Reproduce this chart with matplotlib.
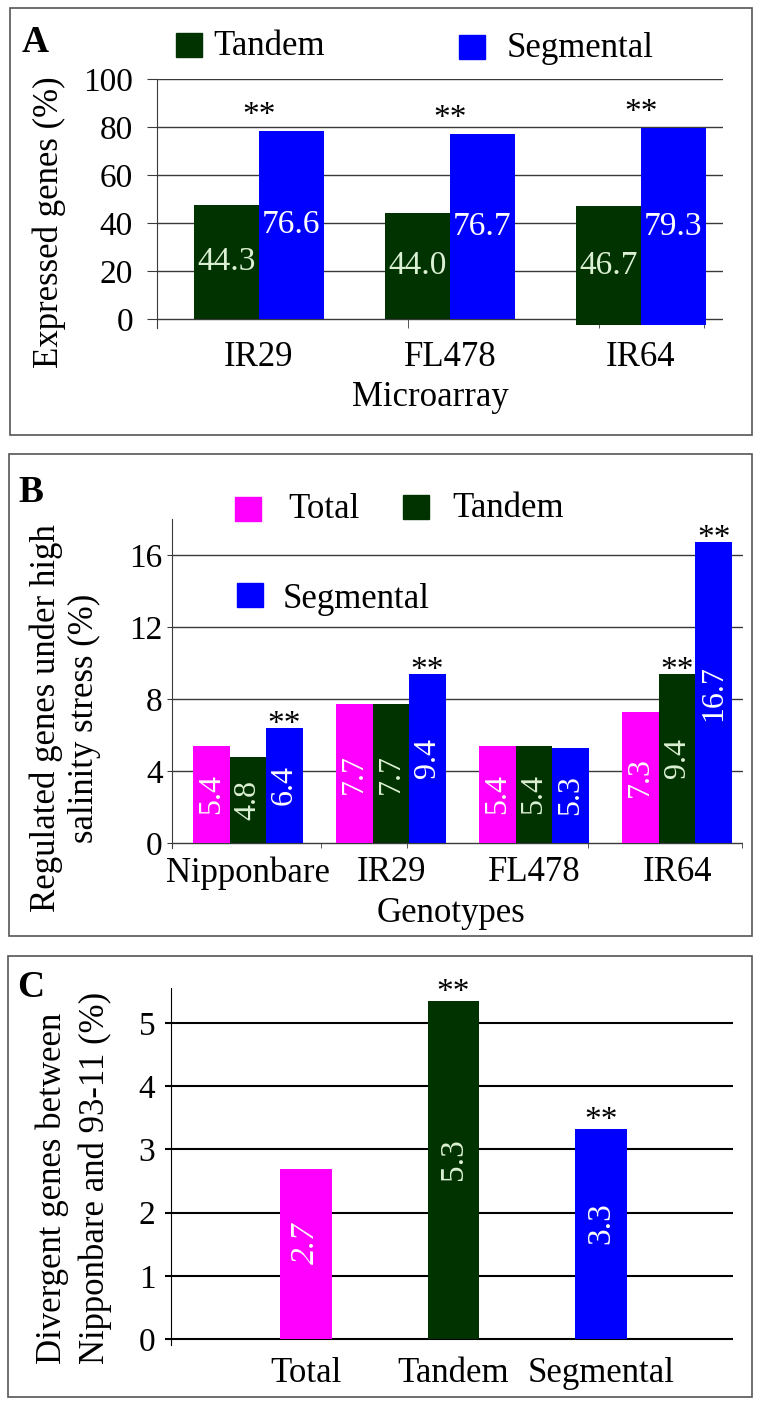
import matplotlib
matplotlib.use("Agg")
import matplotlib.pyplot as plt
from matplotlib.patches import Rectangle
import numpy as np

plt.rcParams['font.family'] = ['Liberation Serif', 'DejaVu Serif']

# --- Data ---
a_groups = ['IR29', 'FL478', 'IR64']
a_tandem = [47.5, 44.2, 47.1]
a_segmental = [78.3, 77.1, 79.6]
a_base = [0, 0, -2.5]
a_tandem_labels = ['44.3', '44.0', '46.7']
a_segmental_labels = ['76.6', '76.7', '79.3']
a_yticks = [0, 20, 40, 60, 80, 100]

b_groups = ['Nipponbare', 'IR29', 'FL478', 'IR64']
b_total = [5.4, 7.7, 5.4, 7.3]
b_tandem = [4.8, 7.7, 5.4, 9.4]
b_segmental = [6.4, 9.4, 5.3, 16.7]
b_yticks = [0, 4, 8, 12, 16]
b_stars = [(2, 0), (2, 1), (1, 3), (2, 3)]  # (series, group) marked **

c_groups = ['Total', 'Tandem', 'Segmental']
c_values = [2.69, 5.34, 3.32]
c_labels = ['2.7', '5.3', '3.3']
c_yticks = [0, 1, 2, 3, 4, 5]
c_stars = [1, 2]

W, H = 761, 1406
DKGREEN = '#003300'
BLUE = '#0000ff'
MAGENTA = '#ff00ff'
GRID = '#3a3a3a'
TLABEL = '#dcf0d4'

fig = plt.figure(figsize=(W / 100, H / 100), dpi=100)


def px_axes(left, top, right, bottom):
    return fig.add_axes([left / W, 1 - bottom / H, (right - left) / W, (bottom - top) / H])


def ftext(x, y, s, **kw):
    fig.text(x / W, 1 - y / H, s, **kw)


def frame(left, top, right, bottom):
    fig.patches.append(Rectangle((left / W, 1 - bottom / H), (right - left) / W, (bottom - top) / H,
                                 transform=fig.transFigure, fill=False, edgecolor='#555555', lw=1.2))


def key(x, y, color, label, tx, baseline):
    # legend square (top-left at x, y) plus its label
    fig.patches.append(Rectangle((x / W, 1 - (y + 24) / H), 26 / W, 24 / H,
                                 transform=fig.transFigure, color=color))
    ftext(tx, baseline, label, fontsize=25, va='baseline')


def style_axes(ax, spine_color):
    for s in ['top', 'right', 'bottom']:
        ax.spines[s].set_visible(False)
    ax.spines['left'].set_color(spine_color)
    ax.set_axisbelow(True)


# ---------------- Panel A ----------------
frame(9.5, 8, 752, 435)
ftext(22, 52, 'A', fontsize=27, fontweight='bold', va='baseline')
key(176, 33, DKGREEN, 'Tandem', 213, 55)
key(459, 35, BLUE, 'Segmental', 507, 57)

ax = px_axes(157, 79, 723, 328)
x = np.arange(len(a_groups))
w = 0.34
base = np.array(a_base)
ta = np.array(a_tandem)
sa = np.array(a_segmental)
ax.bar(x - w / 2, ta - base, w, bottom=base, color=DKGREEN)
ax.bar(x + w / 2, sa - base, w, bottom=base, color=BLUE)
for i in range(len(a_groups)):
    ax.text(x[i] - w / 2, (ta[i] + base[i]) / 2, a_tandem_labels[i], ha='center', va='center',
            color=TLABEL, fontsize=24)
    ax.text(x[i] + w / 2, (sa[i] + base[i]) / 2, a_segmental_labels[i], ha='center', va='center',
            color='white', fontsize=24)
    ax.annotate('**', (x[i], sa[i]), xytext=(0, 5), textcoords='offset points',
                ha='center', va='baseline', fontsize=24)
ax.set_xlim(-0.534, 2.43)
ax.set_ylim(-3.75, 100)
ax.set_yticks(a_yticks)
ax.yaxis.grid(True, color=GRID, lw=1)
style_axes(ax, GRID)
ax.tick_params(axis='y', direction='out', length=7.2, color=GRID, labelsize=24, pad=10)
ax.set_xticks(x)
ax.set_xticklabels(a_groups)
ax.tick_params(axis='x', length=0, pad=9.4, labelsize=25)
ax.set_xticks([0.78, 1.78, 2.33], minor=True)
ax.tick_params(axis='x', which='minor', direction='in', length=6.5, color=GRID)
ftext(49, 222, 'Expressed genes (%)', rotation=90, ha='center', va='center', fontsize=25)
ftext(430, 406, 'Microarray', ha='center', va='baseline', fontsize=25)

# ---------------- Panel B ----------------
frame(9, 454, 752, 936)
ftext(18, 502, 'B', fontsize=27, fontweight='bold', va='baseline')
key(235, 497, MAGENTA, 'Total', 288, 518)
key(403, 495, DKGREEN, 'Tandem', 452, 517)
key(237, 583, BLUE, 'Segmental', 283, 608)

ax = px_axes(172, 519, 743, 848)
x = np.arange(len(b_groups))
w = 0.255
series = [b_total, b_tandem, b_segmental]
colors = [MAGENTA, DKGREEN, BLUE]
txt_colors = ['white', TLABEL, 'white']
for k in range(3):
    xs = x + (k - 1) * w
    ax.bar(xs, series[k], w, color=colors[k])
    for i, v in enumerate(series[k]):
        ax.text(xs[i], v / 2, f'{v:.1f}', rotation=90, ha='center', va='center',
                color=txt_colors[k], fontsize=23)
for k, i in b_stars:
    ax.annotate('**', (x[i] + (k - 1) * w, series[k][i]), xytext=(0, -3.6), textcoords='offset points',
                ha='center', va='baseline', fontsize=24)
ax.set_xlim(-0.531, 3.46)
ax.set_ylim(-0.28, 18)
ax.set_yticks(b_yticks)
ax.yaxis.grid(True, color=GRID, lw=1)
style_axes(ax, GRID)
ax.tick_params(axis='y', direction='out', length=3.6, color=GRID, labelsize=24, pad=3)
ax.set_xticks(x)
ax.set_xticklabels(b_groups)
ax.tick_params(axis='x', length=0, pad=5.8, labelsize=25)
ax.set_xticks([0.51, 1.11, 2.38, 3.45], minor=True)
ax.tick_params(axis='x', which='minor', direction='in', length=3.6, color=GRID)
ftext(46, 718, 'Regulated genes under high', rotation=90, ha='center', va='center', fontsize=25)
ftext(84, 718, 'salinity stress (%)', rotation=90, ha='center', va='center', fontsize=25)
ftext(451, 922, 'Genotypes', ha='center', va='baseline', fontsize=25)

# ---------------- Panel C ----------------
frame(8, 956, 752, 1397)
ftext(17, 997, 'C', fontsize=27, fontweight='bold', va='baseline')

ax = px_axes(171, 988, 733, 1345)
x = np.arange(len(c_groups))
w = 0.35
ax.bar(x, c_values, w, color=[MAGENTA, DKGREEN, BLUE])
c_txt = ['white', TLABEL, 'white']
c_style = ['italic', 'normal', 'normal']
for i, v in enumerate(c_values):
    ax.annotate(c_labels[i], (x[i], v / 2), xytext=(0, 8), textcoords='offset points',
                rotation=90, ha='center', va='center', color=c_txt[i], fontsize=24,
                fontstyle=c_style[i])
for i in c_stars:
    ax.annotate('**', (x[i], c_values[i]), xytext=(0, 0), textcoords='offset points',
                ha='center', va='baseline', fontsize=24)
ax.set_xlim(-0.915, 2.895)
ax.set_ylim(-0.095, 5.55)
ax.set_yticks(c_yticks)
ax.yaxis.grid(True, color='black', lw=1.5)
style_axes(ax, 'black')
ax.tick_params(axis='y', direction='out', length=4.3, width=1.5, labelsize=24, pad=7)
ax.set_xticks(x)
ax.set_xticklabels(c_groups)
ax.tick_params(axis='x', length=0, pad=8.6, labelsize=25)
ftext(52.5, 1188, 'Divergent genes between', rotation=90, ha='center', va='center', fontsize=25)
ftext(95, 1178, 'Nipponbare and 93-11 (%)', rotation=90, ha='center', va='center', fontsize=25)

fig.savefig('out.png', dpi=100)
